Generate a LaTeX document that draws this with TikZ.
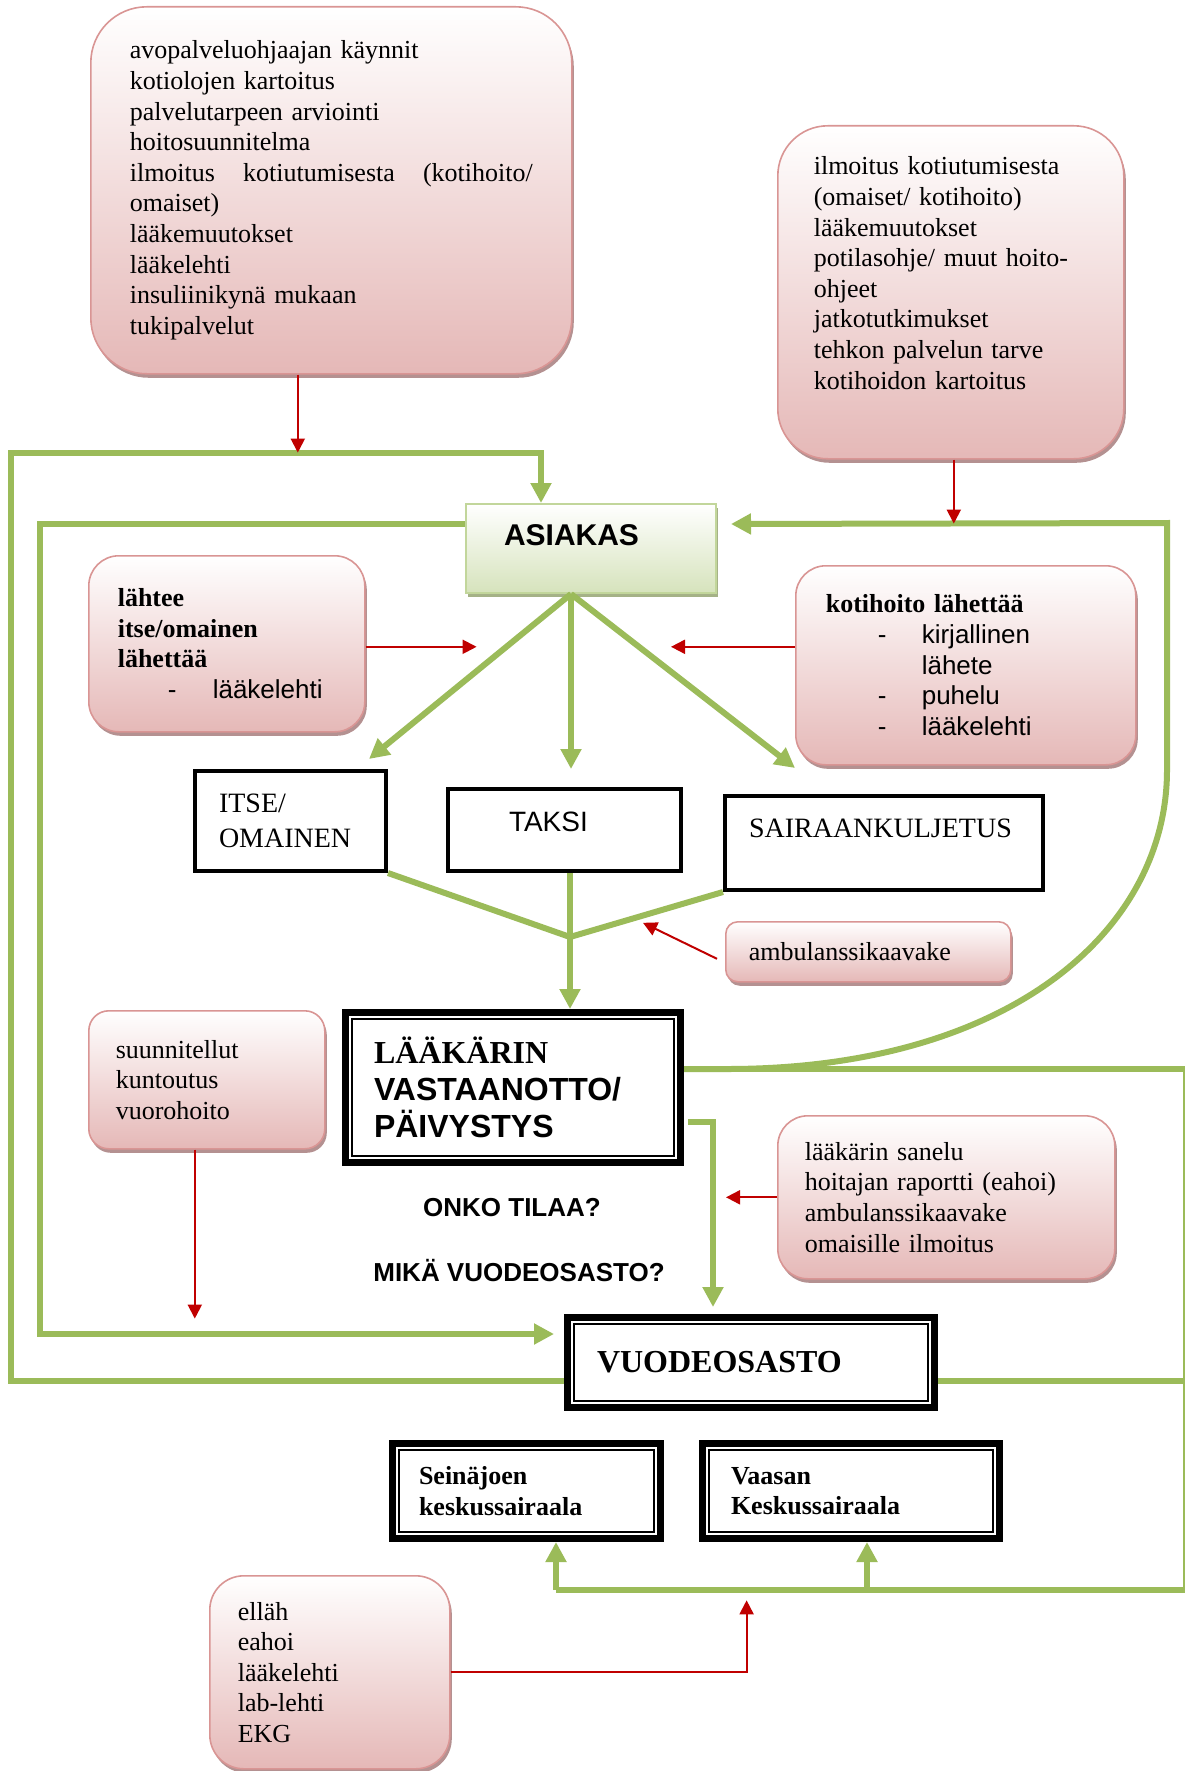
\documentclass[tikz,border=0pt]{standalone}
\usepackage{fontspec}
\setmainfont{Liberation Serif}
\setsansfont{Liberation Sans}
\usetikzlibrary{arrows.meta}
\usetikzlibrary{shadows}
\definecolor{ogreen}{RGB}{155,187,89}
\definecolor{ored}{RGB}{192,0,0}
\definecolor{pinkfill}{RGB}{229,184,183}
\definecolor{pinkedge}{RGB}{217,149,148}
\definecolor{pinkshadow}{RGB}{180,145,145}
\definecolor{asfill}{RGB}{214,227,188}
\definecolor{asedge}{RGB}{194,214,155}
\definecolor{asshadow}{RGB}{165,178,135}

\tikzset{
  pinkbox/.style={draw=pinkedge, line width=0.8pt, top color=white, bottom color=pinkfill,
    drop shadow={shadow xshift=1pt, shadow yshift=-2pt, fill=pinkshadow, opacity=1},
    align=left, anchor=north west, font=\fontsize{13}{15.3}\selectfont},
  blackbox/.style={draw, line width=2pt, fill=white, align=left, anchor=north west},
  dblbox/.style={draw, line width=0.8pt, fill=white, align=left, anchor=north west, outer sep=5pt},
  gline/.style={draw=ogreen, line width=3pt},
  gar/.style={-{Triangle[length=10pt,width=10pt]}},
  rar/.style={draw=ored, line width=1pt, -{Triangle[length=7pt,width=7pt]}}
}

\begin{document}
\begin{tikzpicture}[x=0.5pt, y=-0.5pt]
\useasboundingbox (0,0) rectangle (1184,1771);

\node[pinkbox, rounded corners=28pt, minimum width=240.5pt, minimum height=183.5pt, text width=201.5pt, inner xsep=19.5pt] (avo) at (90,6)
  {avopalveluohjaajan käynnit\\ kotiolojen kartoitus\\ palvelutarpeen arviointi\\ hoitosuunnitelma\\
   \makebox[201.5pt][l]{ilmoitus\hfill kotiutumisesta\hfill (kotihoito/}\\ omaiset)\\ lääkemuutokset\\ lääkelehti\\
   insuliinikynä mukaan\\ tukipalvelut};
\node[pinkbox, rounded corners=25pt, minimum width=173pt, minimum height=166.5pt, text width=137pt, inner xsep=18pt] (ilm) at (777,125)
  {ilmoitus kotiutumisesta\\ (omaiset/ kotihoito)\\ lääkemuutokset\\ potilasohje/ muut hoito-\\ ohjeet\\
   jatkotutkimukset\\ tehkon palvelun tarve\\ kotihoidon kartoitus\\[4pt]\mbox{}};

\node[draw=asedge, line width=1pt, top color=white, bottom color=asfill,
  drop shadow={shadow xshift=1pt, shadow yshift=-2pt, fill=asshadow, opacity=1},
  anchor=north west, align=left, text width=87pt, inner xsep=19pt, inner ysep=0pt,
  text height=20.5pt, text depth=24pt, font=\sffamily\bfseries\fontsize{15}{18}\selectfont] (asiakas) at (465,503) {ASIAKAS};

\node[pinkbox, rounded corners=15pt, minimum width=138pt, minimum height=88pt, text width=109pt, inner xsep=14.5pt] (lahtee) at (88,555)
  {\textbf{lähtee}\\ \textbf{itse/omainen}\\ \textbf{lähettää}\\
   \hspace*{25pt}\makebox[22.5pt][l]{\sffamily -}\textsf{lääkelehti}};
\node[pinkbox, rounded corners=15pt, minimum width=170pt, minimum height=99.5pt, text width=140pt, inner xsep=15pt] (koti) at (795,565)
  {\textbf{kotihoito lähettää}\\
   \hspace*{26pt}\makebox[22pt][l]{\sffamily -}\textsf{kirjallinen}\\
   \hspace*{48pt}\textsf{lähete}\\
   \hspace*{26pt}\makebox[22pt][l]{\sffamily -}\textsf{puhelu}\\
   \hspace*{26pt}\makebox[22pt][l]{\sffamily -}\textsf{lääkelehti}};

\node[blackbox, minimum width=95.5pt, minimum height=50pt, text width=71.5pt, inner xsep=12pt,
  font=\fontsize{14}{17.5}\selectfont] (itse) at (193,769) {ITSE/\\ OMAINEN};
\node[blackbox, text width=55.5pt, inner xsep=30.5pt, inner ysep=0pt, text height=21pt, text depth=20pt,
  font=\sffamily\fontsize{14}{17}\selectfont] (taksi) at (446,787) {TAKSI};
\node[blackbox, text width=135pt, inner xsep=12pt, inner ysep=0pt, text height=20.5pt, text depth=26.5pt,
  font=\fontsize{14}{17}\selectfont] (sairaan) at (723,794) {SAIRAANKULJETUS};

\node[pinkbox, rounded corners=6pt, minimum width=142.5pt, minimum height=30pt, text width=119.5pt, inner xsep=11.5pt] (amb) at (725,921)
  {ambulanssikaavake};

\node[dblbox, minimum width=161pt, minimum height=68.5pt, text width=139pt, inner xsep=11pt,
  font=\bfseries\fontsize{16}{18.4}\selectfont] (lk) at (342,1009)
  {LÄÄKÄRIN\\ \textsf{VASTAANOTTO/}\\ \textsf{PÄIVYSTYS}};

\node[pinkbox, rounded corners=10pt, minimum width=118pt, minimum height=69pt, text width=91pt, inner xsep=13.5pt] (suu) at (88,1010)
  {suunnitellut\\ kuntoutus\\ vuorohoito};
\node[pinkbox, rounded corners=15pt, minimum width=168.5pt, minimum height=81.5pt, text width=141.5pt, inner xsep=13.5pt] (san) at (777,1115)
  {lääkärin sanelu\\ hoitajan raportti (eahoi)\\ ambulanssikaavake\\ omaisille ilmoitus};

\node[font=\sffamily\bfseries\fontsize{13}{15}\selectfont] (onko) at (512,1208) {ONKO TILAA?};
\node[font=\sffamily\bfseries\fontsize{13}{15}\selectfont] (miks) at (519,1271) {MIKÄ VUODEOSASTO?};

\node[dblbox, minimum width=177pt, minimum height=38.5pt, text width=154pt, inner xsep=11.5pt,
  font=\bfseries\fontsize{16}{18.4}\selectfont] (vo) at (564,1314) {VUODEOSASTO};
\node[dblbox, minimum width=127.5pt, minimum height=41pt, text width=107.5pt, inner xsep=10pt,
  font=\bfseries\fontsize{13}{15.3}\selectfont] (sk) at (389,1440) {Seinäjoen\\ keskussairaala};
\node[dblbox, minimum width=142pt, minimum height=41pt, text width=120pt, inner xsep=11pt,
  font=\bfseries\fontsize{13}{15.3}\selectfont] (vk) at (699,1440) {Vaasan\\ Keskussairaala};

\node[pinkbox, rounded corners=17pt, minimum width=120pt, minimum height=96.5pt, text width=92pt, inner xsep=14pt] (ell) at (209,1575)
  {elläh\\ eahoi\\ lääkelehti\\ lab-lehti\\ EKG};

\foreach \n in {lk,vo,sk,vk}
  \draw[line width=3.6pt] ([shift={(3.6,-3.6)}]\n.south west) rectangle ([shift={(-3.6,3.6)}]\n.north east);

\coordinate (fan) at ([shift={(-20,0)}]asiakas.south);
\coordinate (mrg) at (570,937);
\coordinate (bl) at (556,1590);
\coordinate (br) at (867,1590);

\draw[gline,gar] ([shift={(0,18.5)}]vo.west) -| (11,453) -| ([shift={(-50,0)}]asiakas.north);
\draw[gline,gar] ([shift={(0,-24.5)}]asiakas.west) -| (40,1334) -- ([shift={(-10,-28.5)}]vo.west);
\draw[gline,gar] ([shift={(0,-18.5)}]lk.east) -- (727,1069) .. controls (1010,1069) and (1167,930) .. (1167,770)
  -- (1167,523) -- ([shift={(14,-24.5)}]asiakas.east);
\draw[gline] ([shift={(0,-18.5)}]lk.east) -- (1186,1069) |- (bl);
\draw[gline] ([shift={(0,18.5)}]vo.east) -- (1186,1381);
\draw[gline,gar] (bl) -- (bl |- sk.south);
\draw[gline,gar] (br) -- (br |- vk.south);

\draw[gline,gar] (fan) -- ([shift={(-19,-10)}]itse.north east);
\draw[gline,gar,shorten >=9pt] (fan) -- (fan |- taksi.north);
\draw[gline,gar] (fan) -- ([shift={(72,-26)}]sairaan.north west);
\draw[gline] (itse.south east) -- (mrg) -- (sairaan.south west);
\draw[gline,gar] (mrg |- taksi.south) -- (mrg |- lk.north);
\draw[gline,gar] ([shift={(4,34.5)}]lk.east) -| ([shift={(-38,-7)}]vo.north);

\draw[rar] ([shift={(-33.5,0)}]avo.south) -- ++(0,78);
\draw[rar] ([shift={(3,0)}]ilm.south) -- ++(0,64);
\draw[rar] ([shift={(0,3)}]lahtee.east) -- ++(111,0);
\draw[rar] ([shift={(0,-18.5)}]koti.west) -- ++(-124,0);
\draw[rar] ([shift={(-8,7)}]amb.west) -- ++(-74,-36);
\draw[rar] ([shift={(-12,0)}]suu.south) -- ++(0,169);
\draw[rar] (san.west) -- ++(-51,0);
\draw[rar] (ell.east) -| ++(296,-72);
\end{tikzpicture}
\end{document}
